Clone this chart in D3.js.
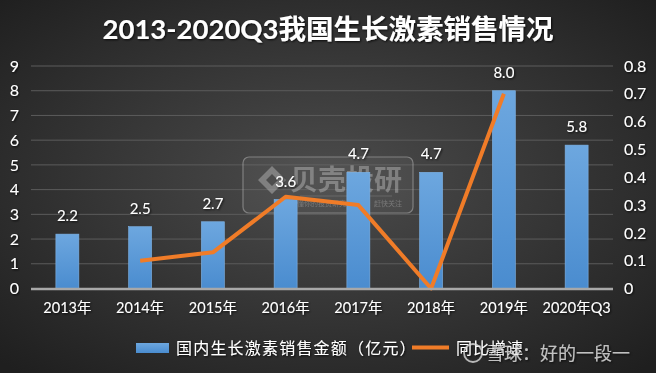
<!DOCTYPE html>
<html><head><meta charset="utf-8">
<script src="https://cdn.jsdelivr.net/npm/d3@7"></script>
<style>
html,body{margin:0;padding:0;background:#333;}
svg{display:block;}
text{font-family:Lato,"Noto Sans CJK SC",sans-serif;}
</style></head>
<body>
<svg id="c" width="656" height="373"></svg>
<script>
const categories = ["2013年","2014年","2015年","2016年","2017年","2018年","2019年","2020年Q3"];
const sales = [2.2, 2.5, 2.7, 3.6, 4.7, 4.7, 8.0, 5.8];
const growth = [null, 0.10, 0.13, 0.33, 0.30, 0.00, 0.70, null];
const leftTicks = [0,1,2,3,4,5,6,7,8,9];
const rightTicks = [0,0.1,0.2,0.3,0.4,0.5,0.6,0.7,0.8];
const title = "2013-2020Q3我国生长激素销售情况";
const legendLabels = ["国内生长激素销售金额（亿元）", "同比增速"];

const W = 656, H = 373;
const svg = d3.select("#c");
const defs = svg.append("defs");
const bg = defs.append("radialGradient").attr("id","bg").attr("cx","50%").attr("cy","48%").attr("r","70%");
bg.append("stop").attr("offset","0%").attr("stop-color","#4c4c4c");
bg.append("stop").attr("offset","100%").attr("stop-color","#1f1f1f");
const bar = defs.append("linearGradient").attr("id","bar").attr("x1",0).attr("y1",0).attr("x2",0).attr("y2",1);
bar.append("stop").attr("offset","0%").attr("stop-color","#6da7df");
bar.append("stop").attr("offset","100%").attr("stop-color","#4a8ccf");
const sh = defs.append("filter").attr("id","sh").attr("x","-10%").attr("y","-20%").attr("width","120%").attr("height","140%");
sh.append("feDropShadow").attr("dx",1).attr("dy",1).attr("stdDeviation",0.8).attr("flood-color","#000").attr("flood-opacity",0.8);

svg.append("rect").attr("width",W).attr("height",H).attr("fill","url(#bg)");

const x0 = 31, x1 = 613, yTop = 66, yBot = 288.5;
const x = d3.scaleBand().domain(categories).range([x0,x1]).paddingInner(0.684).paddingOuter(0.342);
const yL = d3.scaleLinear().domain([0,9]).range([yBot,yTop]);
const yR = d3.scaleLinear().domain([0,0.8]).range([yBot,yTop]);

// grid
svg.append("g").selectAll("line").data(leftTicks.slice(1)).join("line")
  .attr("x1",x0).attr("x2",x1).attr("y1",d=>yL(d)).attr("y2",d=>yL(d))
  .attr("stroke","#5c5c5c").attr("stroke-width",1);

// title
svg.append("text").attr("x",W/2).attr("y",39).attr("text-anchor","middle")
  .attr("fill","#fff").attr("font-size",27.5).attr("font-weight","bold")
  .attr("filter","url(#sh)").text(title);

// watermark box
const wm = svg.append("g").attr("opacity",0.5);
wm.append("rect").attr("x",243).attr("y",157).attr("width",170).attr("height",56).attr("rx",6)
  .attr("fill","rgba(255,255,255,0.08)").attr("stroke","#bbb").attr("stroke-width",1.2);
wm.append("path").attr("d","M272,166 L286,180 L272,194 L258,180 Z M272,174 L278,180 L272,186 L266,180 Z")
  .attr("fill","#bbb").attr("fill-rule","evenodd");
wm.append("text").attr("x",346).attr("y",190).attr("text-anchor","middle").attr("fill","#bbb")
  .attr("font-size",28).attr("font-weight","bold").text("贝壳投研");
wm.append("line").attr("x1",300).attr("x2",392).attr("y1",196).attr("y2",196).attr("stroke","#aaa").attr("stroke-width",0.6);
wm.append("text").attr("x",346).attr("y",206).attr("text-anchor","middle").attr("fill","#aaa")
  .attr("font-size",7).text("最懂你的投资研究小助手，赶快关注");

// bars
svg.append("g").selectAll("rect").data(sales).join("rect")
  .attr("x",(d,i)=>x(categories[i])).attr("width",x.bandwidth())
  .attr("y",d=>yL(d)).attr("height",d=>yBot-yL(d))
  .attr("fill","url(#bar)").attr("stroke","#7fb3e6").attr("stroke-width",0.6);

// bar labels
svg.append("g").selectAll("text").data(sales).join("text")
  .attr("x",(d,i)=>x(categories[i])+x.bandwidth()/2).attr("y",d=>yL(d)-13)
  .attr("text-anchor","middle").attr("fill","#fff").attr("font-size",15)
  .attr("filter","url(#sh)").text(d=>d.toFixed(1));

// line
const pts = growth.map((g,i)=>({g,c:categories[i]})).filter(p=>p.g!==null);
svg.append("path").datum(pts)
  .attr("d",d3.line().x(p=>x(p.c)+x.bandwidth()/2).y(p=>yR(p.g)))
  .attr("fill","none").attr("stroke","#f07c28").attr("stroke-width",4).attr("stroke-linejoin","round");

// baseline
svg.append("line").attr("x1",x0).attr("x2",x1).attr("y1",yBot+0.5).attr("y2",yBot+0.5)
  .attr("stroke","#a8a8a8").attr("stroke-width",2.5);

// axes
const axL = svg.append("g").attr("transform",`translate(${x0},0)`)
  .call(d3.axisLeft(yL).tickValues(leftTicks).tickSize(0).tickPadding(12).tickFormat(d3.format("d")));
const axR = svg.append("g").attr("transform",`translate(${x1},0)`)
  .call(d3.axisRight(yR).tickValues(rightTicks).tickSize(0).tickPadding(11).tickFormat(d=>d===0?"0":d3.format(".1f")(d)));
const axB = svg.append("g").attr("transform",`translate(0,${yBot})`)
  .call(d3.axisBottom(x).tickSize(0).tickPadding(14));
[axL,axR,axB].forEach(a=>{
  a.select(".domain").remove();
  a.selectAll("text").attr("fill","#fff").attr("font-family",'Lato,"Noto Sans CJK SC",sans-serif')
    .attr("filter","url(#sh)");
});
axL.selectAll("text").attr("font-size",16);
axR.selectAll("text").attr("font-size",16);
axB.selectAll("text").attr("font-size",14.5);

// legend
const lg = svg.append("g");
lg.append("rect").attr("x",136).attr("y",343).attr("width",33).attr("height",10).attr("fill","url(#bar)");
lg.append("text").attr("x",176).attr("y",353.5).attr("fill","#fff").attr("font-size",16).attr("letter-spacing",1.2).attr("filter","url(#sh)").text(legendLabels[0]);
lg.append("line").attr("x1",412).attr("x2",449).attr("y1",347.5).attr("y2",347.5).attr("stroke","#f07c28").attr("stroke-width",4);
lg.append("text").attr("x",456).attr("y",353.5).attr("fill","#fff").attr("font-size",16).attr("letter-spacing",1).attr("filter","url(#sh)").text(legendLabels[1]);

// xueqiu watermark
const xq = svg.append("g").attr("opacity",0.8);
xq.append("circle").attr("cx",473).attr("cy",353).attr("r",9).attr("fill","none").attr("stroke","#ddd").attr("stroke-width",1.8);
xq.append("text").attr("x",486).attr("y",360).attr("fill","#e8e8e8").attr("font-size",18).attr("filter","url(#sh)").text("雪球：好的一段一");
</script>
</body></html>
